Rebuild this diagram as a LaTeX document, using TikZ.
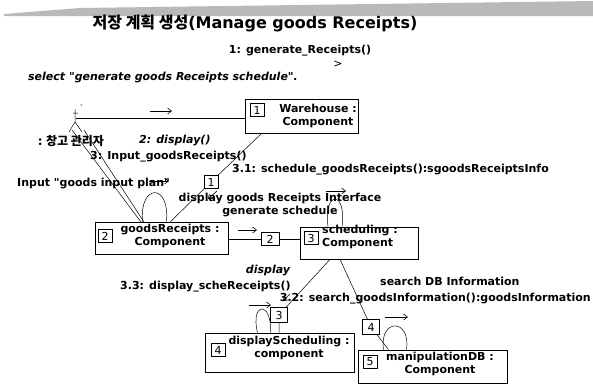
\documentclass[tikz,border=0pt]{standalone}
\usepackage{fontspec}
\setmainfont{DejaVu Sans}
\newfontfamily\kor{Noto Sans CJK KR}
\usetikzlibrary{positioning}
\usetikzlibrary{arrows.meta}

\begin{document}
\begin{tikzpicture}[x=1pt,y=-1pt,
  comp/.style={draw,line width=0.7pt,inner sep=0pt},
  num/.style={draw,fill=white,line width=0.6pt,inner sep=0pt,minimum width=14pt,minimum height=13pt,font=\fontsize{11}{11}\selectfont},
  lbl/.style={inner sep=0pt,font=\bfseries\fontsize{11}{13}\selectfont},
  ilbl/.style={inner sep=0pt,font=\bfseries\itshape\fontsize{11}{13}\selectfont},
  link/.style={line width=0.5pt},
  dirarrow/.style={-{Straight Barb[length=4pt,width=6pt]},line width=0.6pt}]
 \useasboundingbox (0,0) rectangle (593,388);
 \fill[gray!55] (4,14)--(80,8)--(593,1)--(593,16)--(4,16)--cycle;
 \node[inner sep=0pt,font=\bfseries\fontsize{16}{18}\selectfont] (title) at (255,23) {{\kor 저장 계획 생성}(Manage goods Receipts)};
 \node[lbl] (gen) at (300,51) {1: generate\_Receipts()};
 \node[inner sep=0pt,font=\fontsize{11}{11}\selectfont] (genarrow) at (338,64) {>};
 \node[ilbl,anchor=west] (select) at (28,78) {select \textquotedbl generate goods Receipts schedule\textquotedbl.};
 % actor
 \coordinate (actor) at (76,118);
 \draw[link] (81,104)--(81,106) (73,113)--(78,113) (75,109)--(75,122) (75,122)--(69,132) (75,122)--(82,132);
 \node[inner sep=0pt,font=\kor\bfseries\fontsize{12}{14}\selectfont,anchor=west] (actlabel) at (38,141) {: 창고 관리자};
 % components
 \node[comp,minimum width=113pt,minimum height=34pt] (ware) at (301.5,116) {};
 \node[num] (ware-n) at (257,110) {1};
 \node[lbl,align=center] (ware-t) at (318,116) {Warehouse :\\Component};
 \node[comp,minimum width=133pt,minimum height=32pt] (goods) at (161.5,238) {};
 \node[num] (goods-n) at (105,236) {2};
 \node[lbl,align=center] (goods-t) at (170,236) {goodsReceipts :\\Component};
 \node[comp,minimum width=118pt,minimum height=32pt] (sched) at (359,243) {};
 \node[num] (sched-n) at (311,238) {3};
 \node[lbl,align=left,anchor=west] (sched-t) at (322,237) {scheduling :\\Component};
 \node[comp,minimum width=149pt,minimum height=39pt] (disp) at (279.5,352.5) {};
 \node[num] (disp-n) at (218,350) {4};
 \node[lbl,align=center] (disp-t) at (289,348) {displayScheduling :\\component};
 \node[comp,minimum width=149pt,minimum height=33pt] (manip) at (432.5,366.5) {};
 \node[num] (manip-n) at (370,362) {5};
 \node[lbl,align=center] (manip-t) at (440,364) {manipulationDB :\\Component};
 % links
 \draw[link] (actor) -- (actor -| ware.west);
 \draw[dirarrow] (150,111) -- (172,111);
 \draw[link] (72,130) -- (141,222);
 \draw[link] (84,130) -- (144,222);
 \node[num] (m1) at (211,182) {1};
 \draw[link] ([xshift=17pt]ware.south west) -- (m1) -- ([xshift=9pt]goods.north);
 \node[num] (m1) at (211,182) {1};
 \draw[dirarrow] (217,191) -- (208,199);
 \node[num,minimum width=18pt] (m2) at (270,239) {2};
 \draw[link] (goods.east |- m2) -- (m2) -- (sched.west |- m2);
 \draw[dirarrow] (238,230) -- (257,230);
 \node[num,minimum width=17pt,minimum height=15pt] (m3) at (279,315) {3};
 \node[num,minimum width=17pt,minimum height=15pt] (m4) at (371,327) {4};
 \draw[link] ([xshift=-29pt]sched.south) -- (m3) -- (disp.north -| m3);
 \draw[link] ([xshift=-19pt]sched.south) -- (m4) -- ([xshift=-44pt]manip.north);
 \draw[dirarrow] (290,294) -- (283,301);
 % self loops
 \draw[link] ([xshift=-19pt]goods.north) .. controls (139,184) and (170,182) .. ([xshift=5pt]goods.north);
 \draw[dirarrow] (149,181) -- (169,181);
 \draw[link] ([xshift=-31pt]sched.north) .. controls (323,190) and (347,190) .. ([xshift=-17pt]sched.north);
 \draw[dirarrow] (326,191) -- (346,191);
 \draw[link] ([xshift=-22pt]disp.north) .. controls (250,302) and (272,300) .. ([xshift=-9pt]disp.north);
 \node[num,minimum width=17pt,minimum height=15pt] (m3) at (279,315) {3};
 \draw[dirarrow] (249,305) -- (271,305);
 \draw[link] ([xshift=-49pt]manip.north) .. controls (379,318) and (411,318) .. ([xshift=-26pt]manip.north);
 \draw[dirarrow] (385,317) -- (408,317);
 % messages
 \node[ilbl,anchor=west] (msg2) at (139,141) {2: display()};
 \node[lbl,anchor=west] (msg3) at (90,157) {3: Input\_goodsReceipts()};
 \node[lbl,anchor=west] (msg31) at (232,170) {3.1: schedule\_goodsReceipts():sgoodsReceiptsInfo};
 \node[lbl,anchor=west] (input) at (17,184) {Input \textquotedbl goods input plan\textquotedbl};
 \node[lbl,align=center] (dispif) at (280,205) {display goods Receipts Interface\\generate schedule};
 \node[ilbl] (display) at (268,271) {display};
 \node[lbl,anchor=west] (msg33) at (120,287) {3.3: display\_scheReceipts()};
 \node[lbl,anchor=west] (search) at (380,281) {search DB Information};
 \node[lbl,anchor=east] (msg32) at (591,299) {3.2: search\_goodsInformation():goodsInformation};
\end{tikzpicture}
\end{document}
